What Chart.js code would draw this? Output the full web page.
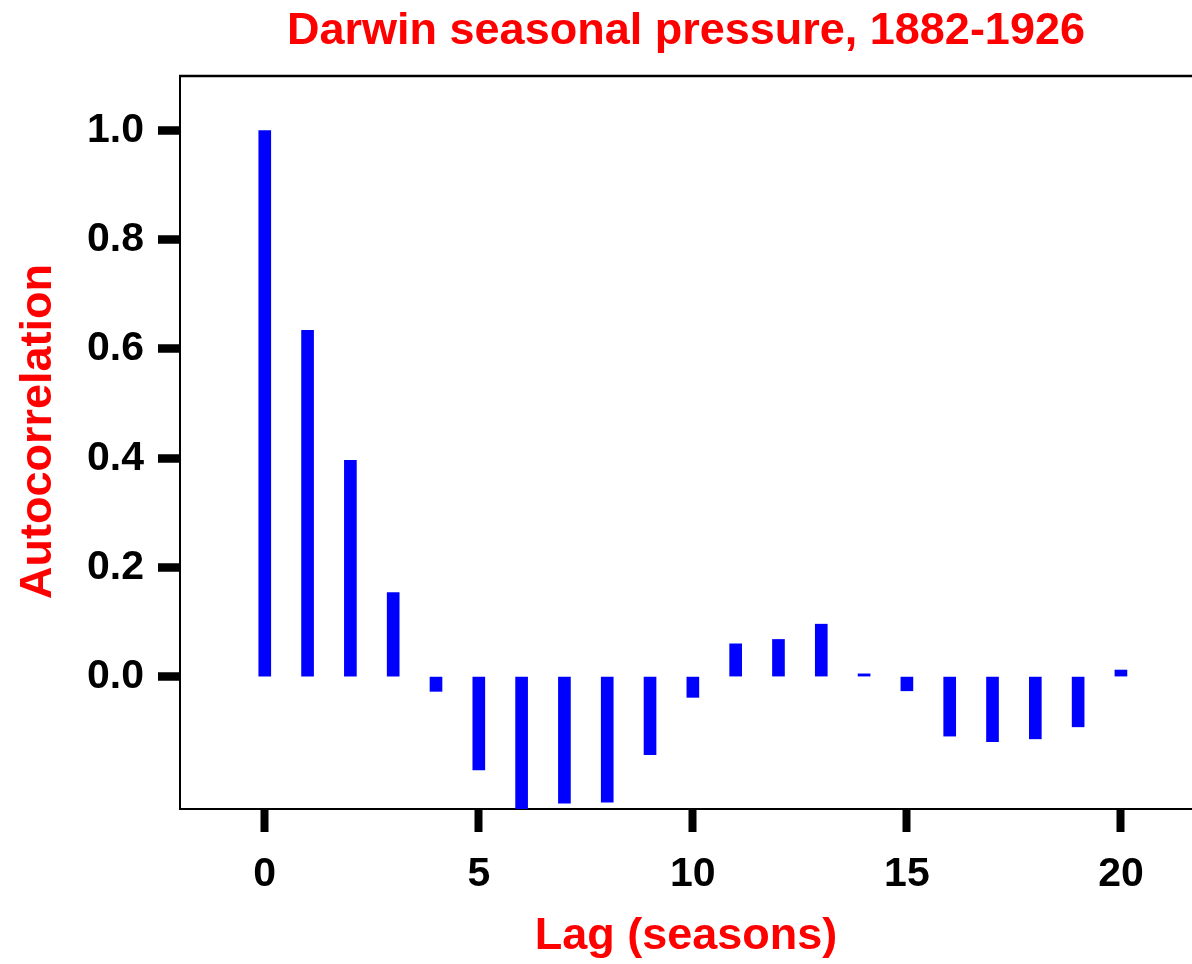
<!DOCTYPE html>
<html>
<head>
<meta charset="utf-8">
<script src="https://cdn.jsdelivr.net/npm/chart.js@4.4.0/dist/chart.umd.min.js"></script>
<style>
  html, body { margin: 0; padding: 0; background: #fff; }
  #wrap { width: 1192px; height: 964px; }
</style>
</head>
<body>
<div id="wrap"><canvas id="myChart"></canvas></div>
<script>
// lag (seasons) and autocorrelation
const lags = [0, 1, 2, 3, 4, 5, 6, 7, 8, 9, 10, 11, 12, 13, 14, 15, 16, 17, 18, 19, 20];
const acf = [1.0, 0.634, 0.396, 0.154, -0.027, -0.171, -0.26, -0.232, -0.230, -0.143, -0.038,
             0.060, 0.068, 0.096, 0.005, -0.026, -0.109, -0.119, -0.114, -0.092, 0.012];
const xTicks = [0, 5, 10, 15, 20];
const yTicks = [0, 0.2, 0.4, 0.6, 0.8, 1.0];

const FONT = '"Liberation Sans", Arial, sans-serif';

const frame = {
    id: 'frame',
    beforeDraw: (chart) => {
        const ctx = chart.ctx;
        ctx.save();
        ctx.fillStyle = 'white';
        ctx.fillRect(0, 0, chart.width, chart.height);
        ctx.restore();
    },
    afterDraw: (chart) => {
        const ctx = chart.ctx;
        const a = chart.chartArea;
        ctx.save();
        // top frame line (no right-hand border in the original)
        ctx.strokeStyle = 'black';
        ctx.lineWidth = 2.5;
        ctx.beginPath();
        ctx.moveTo(a.left - 1, a.top);
        ctx.lineTo(chart.width, a.top);
        ctx.stroke();
        // y axis title, sits a little above the middle of the plot
        ctx.translate(39, (a.top + a.bottom) / 2 - 11);
        ctx.rotate(-Math.PI / 2);
        ctx.fillStyle = '#ff0000';
        ctx.font = 'bold 45px ' + FONT;
        ctx.textAlign = 'center';
        ctx.textBaseline = 'middle';
        ctx.fillText('Autocorrelation', 0, 0);
        ctx.restore();
    }
};

let ctx = document.getElementById('myChart').getContext('2d');
let myChart = new Chart(ctx, {
    type: 'bar',
    data: {
        datasets: [{
            label: 'Autocorrelation',
            data: lags.map((l, i) => ({x: l, y: acf[i]})),
            backgroundColor: '#0000ff',
            borderWidth: 0,
            barThickness: 12
        }]
    },
    options: {
        responsive: true,
        maintainAspectRatio: false,
        animation: false,
        devicePixelRatio: 1,
        layout: { padding: 0 },
        plugins: {
            legend: { display: false },
            tooltip: { enabled: false },
            title: {
                display: true,
                fullSize: false,
                text: 'Darwin seasonal pressure, 1882-1926',
                color: '#ff0000',
                font: { family: FONT, size: 45, weight: 'bold', lineHeight: 1.2 },
                padding: { top: 5, bottom: 17 }
            }
        },
        scales: {
            x: {
                type: 'linear',
                min: -1.98,
                max: 21.66,
                offset: false,
                afterFit: (s) => { s.height = 155; },
                afterBuildTicks: (s) => { s.ticks = xTicks.map(v => ({value: v})); },
                grid: {
                    drawOnChartArea: false,
                    drawTicks: true,
                    tickLength: 23,
                    tickWidth: 8,
                    tickColor: 'black',
                    offset: false
                },
                border: { display: true, color: 'black', width: 2 },
                ticks: {
                    color: 'black',
                    maxRotation: 0,
                    autoSkip: false,
                    padding: 18,
                    font: { family: FONT, size: 41, weight: 'bold' }
                },
                title: {
                    display: true,
                    text: 'Lag (seasons)',
                    color: '#ff0000',
                    font: { family: FONT, size: 45, weight: 'bold', lineHeight: 1.2 },
                    padding: { top: 0, bottom: 0 }
                }
            },
            y: {
                min: -0.2425,
                max: 1.1,
                afterFit: (s) => { s.width = 180; },
                afterBuildTicks: (s) => { s.ticks = yTicks.map(v => ({value: v})); },
                grid: {
                    drawOnChartArea: false,
                    drawTicks: true,
                    tickLength: 22,
                    tickWidth: 8.5,
                    tickColor: 'black'
                },
                border: { display: true, color: 'black', width: 2 },
                ticks: {
                    color: 'black',
                    padding: 14,
                    callback: (v) => Number(v).toFixed(1),
                    font: { family: FONT, size: 41, weight: 'bold' }
                },
                title: { display: false }
            }
        }
    },
    plugins: [frame]
});
</script>
</body>
</html>
